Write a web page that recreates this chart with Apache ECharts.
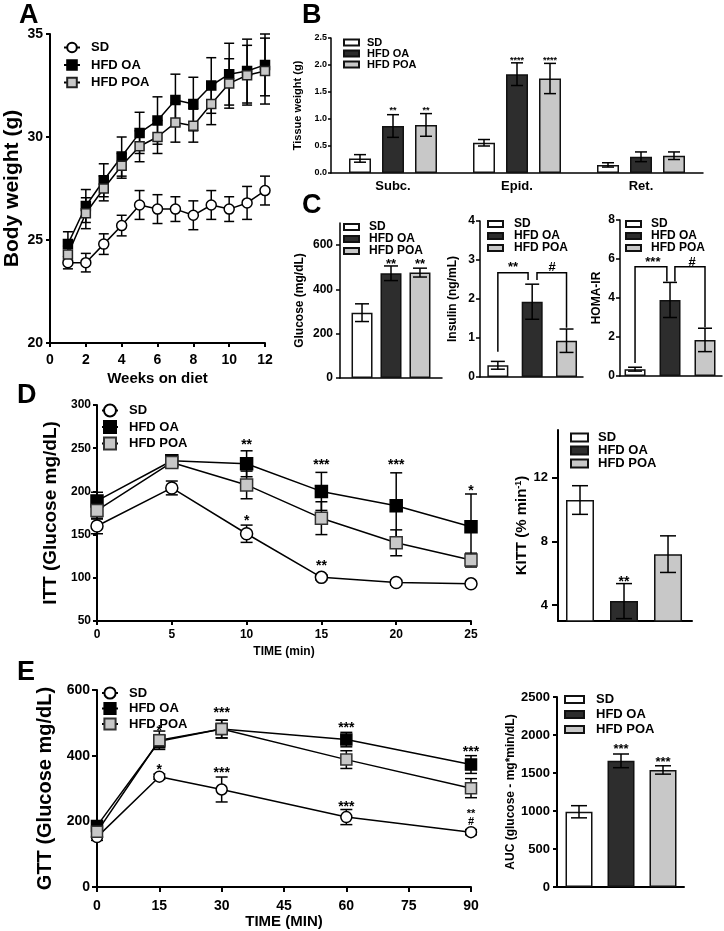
<!DOCTYPE html>
<html>
<head>
<meta charset="utf-8">
<script src="https://cdn.jsdelivr.net/npm/echarts@6/dist/echarts.min.js"></script>
<style>
  html, body { margin: 0; padding: 0; background: #fff; }
  #main { width: 724px; height: 931px; }
</style>
</head>
<body>
<div id="main"></div>
<script>
// ---- A: body weight ----
var weeks = [1, 2, 3, 4, 5, 6, 7, 8, 9, 10, 11, 12];
var bwSD = [23.9, 23.9, 24.8, 25.7, 26.7, 26.5, 26.5, 26.2, 26.7, 26.5, 26.8, 27.4];
var bwSDerr = [0.3, 0.45, 0.5, 0.5, 0.7, 0.7, 0.6, 0.7, 0.7, 0.6, 0.8, 0.7];
var bwOA = [24.8, 26.65, 27.9, 29.05, 30.2, 30.8, 31.8, 31.6, 32.5, 33.05, 33.2, 33.5];
var bwOAerr = [0.6, 0.8, 0.8, 0.95, 1.0, 1.15, 1.25, 1.3, 1.35, 1.5, 1.55, 1.5];
var bwPOA = [24.3, 26.3, 27.5, 28.6, 29.55, 30.0, 30.7, 30.55, 31.6, 32.6, 33.0, 33.2];
var bwPOAerr = [0.4, 0.75, 0.6, 0.6, 0.75, 0.8, 0.95, 0.8, 1.0, 1.2, 1.45, 1.6];

// ---- B: tissue weight ----
var tissues = ['Subc.', 'Epid.', 'Ret.'];
var twSD = [0.27, 0.56, 0.15];
var twSDerr = [0.07, 0.06, 0.04];
var twOA = [0.87, 1.83, 0.30];
var twOAerr = [0.21, 0.21, 0.09];
var twPOA = [0.89, 1.75, 0.32];
var twPOAerr = [0.21, 0.28, 0.07];
// [tissue, value, text, group]
var twStars = [[0, 1.15, '**', 1], [0, 1.15, '**', 2], [1, 2.09, '****', 1], [1, 2.09, '****', 2]];

// ---- C: glucose / insulin / HOMA-IR (groups at x = 1, 2, 3) ----
var groups = ['SD', 'HFD OA', 'HFD POA'];
var glucose = [295, 473, 476];
var glucoseErr = [40, 33, 20];
var glucoseStars = [[2, 515, '**'], [3, 515, '**']];
var insulin = [0.3, 1.93, 0.93];
var insulinErr = [0.1, 0.45, 0.3];
// bracket: x1, y1 (leg end), x2, y2 (leg end), top
var insulinBrackets = [[1, 0.65, 1.88, 2.49, 2.67], [2.14, 2.49, 3, 1.26, 2.67]];
var insulinStars = [[1.44, 2.8, '**'], [2.58, 2.8, '#']];
var homa = [0.35, 3.9, 1.85];
var homaErr = [0.1, 0.9, 0.6];
var homaBrackets = [[1, 0.67, 1.91, 4.85, 5.6], [2.14, 4.85, 3, 2.5, 5.6]];
var homaStars = [[1.51, 5.85, '***'], [2.63, 5.85, '#']];

// ---- D: ITT + KITT ----
var ittTimes = [0, 5, 10, 15, 20, 25];
var ittSD = [160, 204, 151, 100.5, 94.5, 93];
var ittSDerr = [9, 8, 10, 3, 3, 3];
var ittOA = [189, 235.5, 232, 200, 183.5, 159];
var ittOAerr = [10, 5, 15, 22, 38, 38];
var ittPOA = [178, 233.5, 207.5, 169, 140.5, 120.5];
var ittPOAerr = [10, 5, 16, 19, 15, 8];
var ittStars = [[10, 254, '**'], [10, 165, '*'], [15, 230, '***'], [15, 114, '**'], [20, 230, '***'], [25, 200, '*']];
var kitt = [10.6, 4.25, 7.2];
var kittErr = [0.9, 1.1, 1.15];
var kittStars = [[2, 5.45, '**']];

// ---- E: GTT + AUC ----
var gttTimes = [0, 15, 30, 60, 90];
var gttSD = [152, 336, 297, 213, 167];
var gttSDerr = [10, 8, 38, 23, 8];
var gttOA = [186, 444, 481, 449, 373];
var gttOAerr = [10, 20, 27, 22, 27];
var gttPOA = [168, 447, 481, 388, 301];
var gttPOAerr = [12, 28, 27, 27, 29];
var gttStars = [[15, 475, '*'], [15, 356, '*'], [30, 529, '***'], [30, 347, '***'], [60, 484, '***'], [60, 243, '***'], [90, 411, '***']];
var gttStarsSmall = [[90, 223, '**'], [90, 198, '#']];
var auc = [990, 1660, 1540];
var aucErr = [80, 90, 55];
var aucStars = [[2, 1810, '***'], [3, 1640, '***']];

var FONT = "'Liberation Sans', Arial, sans-serif";
var BLACK = '#000';
var SD_FILL = '#ffffff', OA_FILL = '#2d2d2d', POA_FILL = '#c8c8c8';
var barFills = [SD_FILL, OA_FILL, POA_FILL];

function merge(a, b) {
  for (var k in b) {
    if (b[k] && typeof b[k] === 'object' && !Array.isArray(b[k]) && a[k] && typeof a[k] === 'object') {
      merge(a[k], b[k]);
    } else {
      a[k] = b[k];
    }
  }
  return a;
}

function plain(v) { return String(v); }

function axis(type, grid, fs, lw, more) {
  var ax = {
    type: type, gridIndex: grid,
    axisLine: { show: true, onZero: false, lineStyle: { color: BLACK, width: lw } },
    axisTick: { show: true, length: 4, lineStyle: { color: BLACK, width: lw } },
    axisLabel: { color: BLACK, fontSize: fs, fontWeight: 'bold', fontFamily: FONT, margin: 6 },
    splitLine: { show: false },
    nameLocation: 'middle',
    nameTextStyle: { color: BLACK, fontWeight: 'bold', fontFamily: FONT }
  };
  if (type === 'value') ax.axisLabel.formatter = plain;
  return merge(ax, more || {});
}
function hiddenX(grid, min, max, lw) {
  return axis('value', grid, 10, lw, {
    min: min, max: max, axisTick: { show: false }, axisLabel: { show: false }
  });
}

function pairs(xs, ys, es) {
  return xs.map(function (x, i) { return es ? [x, ys[i], es[i]] : [x, ys[i]]; });
}

function errRender(cap, lw, offset) {
  return function (params, api) {
    var x = api.value(0), y = api.value(1), e = api.value(2);
    var hi = api.coord([x, y + e]), lo = api.coord([x, y - e]);
    var cx = hi[0] + (offset || 0);
    var st = { stroke: BLACK, lineWidth: lw };
    return {
      type: 'group', children: [
        { type: 'line', shape: { x1: cx, y1: hi[1], x2: cx, y2: lo[1] }, style: st },
        { type: 'line', shape: { x1: cx - cap, y1: hi[1], x2: cx + cap, y2: hi[1] }, style: st },
        { type: 'line', shape: { x1: cx - cap, y1: lo[1], x2: cx + cap, y2: lo[1] }, style: st }
      ]
    };
  };
}
function errSeries(xi, data, cap, lw, z, offset) {
  return {
    type: 'custom', xAxisIndex: xi, yAxisIndex: xi, data: data, z: z, silent: true,
    renderItem: errRender(cap, lw, offset)
  };
}

function starSeries(xi, list, fs, offsetFn) {
  return {
    type: 'custom', xAxisIndex: xi, yAxisIndex: xi, z: 10, silent: true,
    data: list.map(function (s) { return [s[0], s[1]]; }),
    renderItem: function (params, api) {
      var item = list[params.dataIndex];
      var p = api.coord([api.value(0), api.value(1)]);
      return {
        type: 'text', x: p[0] + (offsetFn ? offsetFn(item) : 0), y: p[1],
        style: { text: item[2], fill: BLACK, font: 'bold ' + fs + 'px ' + FONT, align: 'center', verticalAlign: 'middle' }
      };
    }
  };
}

function bracketSeries(xi, list) {
  return {
    type: 'custom', xAxisIndex: xi, yAxisIndex: xi, z: 5, silent: true,
    data: list,
    renderItem: function (params, api) {
      var a = api.coord([api.value(0), api.value(1)]);
      var b = api.coord([api.value(0), api.value(4)]);
      var c = api.coord([api.value(2), api.value(4)]);
      var d = api.coord([api.value(2), api.value(3)]);
      return { type: 'polyline', shape: { points: [a, b, c, d] }, style: { stroke: BLACK, lineWidth: 1.5, fill: null } };
    }
  };
}

function lineSeries(name, xi, data, symbol, size, fill, borderColor) {
  return {
    name: name, type: 'line', xAxisIndex: xi, yAxisIndex: xi, data: data,
    symbol: symbol, symbolSize: size, showAllSymbol: true, z: 3,
    lineStyle: { color: BLACK, width: 1.5 },
    itemStyle: { color: fill, borderColor: borderColor, borderWidth: 1.5, opacity: 1 }
  };
}

function barSeries(name, xi, x, y, width) {
  return {
    name: name, type: 'bar', xAxisIndex: xi, yAxisIndex: xi,
    data: [[x, y]], barWidth: width, barGap: '-100%', z: 2,
    itemStyle: { color: barFills[x - 1], borderColor: '#111', borderWidth: 1.5 }
  };
}

function stripName(n) { return n.split('|')[1]; }
function lineLegend(prefix, left, top, ih, gap, fs) {
  return {
    orient: 'vertical', left: left, top: top, itemWidth: 16, itemHeight: ih, itemGap: gap,
    selectedMode: false, padding: 0, formatter: stripName,
    data: groups.map(function (g) { return prefix + '|' + g; }),
    textStyle: { color: BLACK, fontWeight: 'bold', fontSize: fs, fontFamily: FONT, lineHeight: ih, padding: [0, 0, 0, 6] }
  };
}
function barLegend(prefix, left, top, iw, ih, rowH, fs, pad) {
  return {
    orient: 'vertical', left: left, top: top, itemWidth: iw, itemHeight: ih, itemGap: 0,
    selectedMode: false, padding: 0, icon: 'rect', formatter: stripName,
    data: groups.map(function (g) { return prefix + '|' + g; }),
    textStyle: { color: BLACK, fontWeight: 'bold', fontSize: fs, fontFamily: FONT, lineHeight: rowH, padding: [0, 0, 0, pad] }
  };
}

var grids = [
  { left: 50, top: 34, width: 215, height: 309 },   // 0 A
  { left: 331, top: 38, width: 372, height: 135 },  // 1 B
  { left: 340, top: 223, width: 102, height: 155 }, // 2 C glucose
  { left: 480, top: 221, width: 103, height: 156 }, // 3 C insulin
  { left: 620, top: 220, width: 102, height: 156 }, // 4 C homa
  { left: 97, top: 405, width: 374, height: 216 },  // 5 D ITT
  { left: 558, top: 430, width: 134, height: 191 }, // 6 D KITT
  { left: 97, top: 690, width: 374, height: 197 },  // 7 E GTT
  { left: 557, top: 697, width: 127, height: 190 }  // 8 E AUC
];

var xAxes = [
  axis('value', 0, 14, 2, { min: 0, max: 12, interval: 2, axisLabel: { margin: 10 }, name: 'Weeks on diet', nameGap: 28, nameTextStyle: { fontSize: 15 } }),
  axis('category', 1, 13, 1.5, { data: tissues, axisTick: { show: false }, axisLabel: { margin: 7 } }),
  hiddenX(2, 0.24, 3.76, 1.5),
  hiddenX(3, 0.48, 3.48, 1.5),
  hiddenX(4, 0.57, 3.486, 1.5),
  axis('value', 5, 12, 2, { min: 0, max: 25, interval: 5, axisLabel: { margin: 8 }, name: 'TIME (min)', nameGap: 25, nameTextStyle: { fontSize: 12 } }),
  hiddenX(6, 0.5, 3.545, 2),
  axis('value', 7, 14, 2, { min: 0, max: 90, interval: 15, axisTick: { length: 5 }, axisLabel: { margin: 12 }, name: 'TIME (MIN)', nameGap: 27, nameTextStyle: { fontSize: 15 } }),
  hiddenX(8, 0.476, 3.5, 2)
];

var yAxes = [
  axis('value', 0, 14, 2, { min: 20, max: 35, interval: 5, axisLabel: { margin: 7 }, name: 'Body weight (g)', nameGap: 27, nameTextStyle: { fontSize: 21 } }),
  axis('value', 1, 9, 1.5, { min: 0, max: 2.5, interval: 0.5, axisTick: { length: 3 }, axisLabel: { margin: 4, formatter: function (v) { return v.toFixed(1); } }, name: 'Tissue weight (g)', nameGap: 18, nameTextStyle: { fontSize: 11 } }),
  axis('value', 2, 12, 1.5, { min: 0, max: 700, axisTick: { customValues: [0, 200, 400, 600] }, axisLabel: { margin: 7, customValues: [0, 200, 400, 600] }, name: 'Glucose (mg/dL)', nameGap: 34, nameTextStyle: { fontSize: 12 } }),
  axis('value', 3, 12, 1.5, { min: 0, max: 4, interval: 1, axisLabel: { margin: 5 }, name: 'Insulin (ng/mL)', nameGap: 21, nameTextStyle: { fontSize: 12 } }),
  axis('value', 4, 12, 1.5, { min: 0, max: 8, interval: 2, axisLabel: { margin: 5 }, name: 'HOMA-IR', nameGap: 17, nameTextStyle: { fontSize: 12 } }),
  axis('value', 5, 12, 2, { min: 50, max: 300, interval: 50, axisLabel: { margin: 6 }, name: 'ITT (Glucose mg/dL)', nameGap: 32, nameTextStyle: { fontSize: 19 } }),
  axis('value', 6, 13, 2, { min: 3, max: 15, axisTick: { length: 6, customValues: [4, 8, 12] }, axisLabel: { margin: 10, customValues: [4, 8, 12] },
    name: 'KITT (% min{sup|-1})', nameGap: 25,
    nameTextStyle: { fontSize: 15, rich: { sup: { fontSize: 9, fontWeight: 'bold', fontFamily: FONT, color: BLACK, verticalAlign: 'top', padding: [0, 0, 7, 0] } } } }),
  axis('value', 7, 14, 2, { min: 0, max: 600, interval: 200, axisTick: { length: 5 }, axisLabel: { margin: 7 }, name: 'GTT (Glucose mg/dL)', nameGap: 32, nameTextStyle: { fontSize: 20 } }),
  axis('value', 8, 13, 2, { min: 0, max: 2500, interval: 500, axisLabel: { margin: 7 }, name: 'AUC (glucose - mg*min/dL)', nameGap: 39, nameTextStyle: { fontSize: 12 } })
];

var series = [];

// A
series.push(errSeries(0, pairs(weeks, bwSD, bwSDerr), 5, 1.5, 1));
series.push(errSeries(0, pairs(weeks, bwOA, bwOAerr), 5, 1.5, 1));
series.push(errSeries(0, pairs(weeks, bwPOA, bwPOAerr), 5, 1.5, 1));
series.push(lineSeries('a|SD', 0, pairs(weeks, bwSD), 'circle', 10, SD_FILL, BLACK));
series.push(lineSeries('a|HFD OA', 0, pairs(weeks, bwOA), 'rect', 9, '#000', BLACK));
series.push(lineSeries('a|HFD POA', 0, pairs(weeks, bwPOA), 'rect', 9, POA_FILL, '#222'));

// B
[[twSD, twSDerr], [twOA, twOAerr], [twPOA, twPOAerr]].forEach(function (g, gi) {
  series.push({
    name: 'b|' + groups[gi], type: 'bar', xAxisIndex: 1, yAxisIndex: 1, data: g[0],
    barWidth: 22, barGap: '50%', z: 2,
    itemStyle: { color: barFills[gi], borderColor: '#111', borderWidth: 1.5 }
  });
  series.push(errSeries(1, tissues.map(function (t, i) { return [i, g[0][i], g[1][i]]; }), 6, 1.5, 4, (gi - 1) * 33));
});
series.push(starSeries(1, twStars, 9, function (s) { return (s[3] - 1) * 33; }));

// C
[[2, 'c1', glucose, glucoseErr], [3, 'c2', insulin, insulinErr], [4, 'c3', homa, homaErr]].forEach(function (c) {
  groups.forEach(function (g, gi) {
    series.push(barSeries(c[1] + '|' + g, c[0], gi + 1, c[2][gi], 21));
  });
  series.push(errSeries(c[0], c[2].map(function (v, i) { return [i + 1, v, c[3][i]]; }), 7, 1.5, 4));
});
series.push(starSeries(2, glucoseStars, 13));
series.push(bracketSeries(3, insulinBrackets));
series.push(starSeries(3, insulinStars, 13));
series.push(bracketSeries(4, homaBrackets));
series.push(starSeries(4, homaStars, 13));

// D
series.push(errSeries(5, pairs(ittTimes, ittSD, ittSDerr), 6, 1.5, 1));
series.push(errSeries(5, pairs(ittTimes, ittOA, ittOAerr), 6, 1.5, 1));
series.push(errSeries(5, pairs(ittTimes, ittPOA, ittPOAerr), 6, 1.5, 1));
series.push(lineSeries('d|SD', 5, pairs(ittTimes, ittSD), 'circle', 12, SD_FILL, BLACK));
series.push(lineSeries('d|HFD OA', 5, pairs(ittTimes, ittOA), 'rect', 12, '#000', BLACK));
series.push(lineSeries('d|HFD POA', 5, pairs(ittTimes, ittPOA), 'rect', 12, POA_FILL, '#333'));
series.push(starSeries(5, ittStars, 14));
groups.forEach(function (g, gi) {
  series.push(barSeries('k|' + g, 6, gi + 1, kitt[gi], 28));
});
series.push(errSeries(6, kitt.map(function (v, i) { return [i + 1, v, kittErr[i]]; }), 8, 1.5, 4));
series.push(starSeries(6, kittStars, 14));

// E
series.push(errSeries(7, pairs(gttTimes, gttSD, gttSDerr), 6, 1.5, 1));
series.push(errSeries(7, pairs(gttTimes, gttOA, gttOAerr), 6, 1.5, 1));
series.push(errSeries(7, pairs(gttTimes, gttPOA, gttPOAerr), 6, 1.5, 1));
series.push(lineSeries('e|SD', 7, pairs(gttTimes, gttSD), 'circle', 11, SD_FILL, BLACK));
series.push(lineSeries('e|HFD OA', 7, pairs(gttTimes, gttOA), 'rect', 11, '#000', BLACK));
series.push(lineSeries('e|HFD POA', 7, pairs(gttTimes, gttPOA), 'rect', 11, POA_FILL, '#333'));
series.push(starSeries(7, gttStars, 14));
series.push(starSeries(7, gttStarsSmall, 11));
groups.forEach(function (g, gi) {
  series.push(barSeries('u|' + g, 8, gi + 1, auc[gi], 27));
});
series.push(errSeries(8, auc.map(function (v, i) { return [i + 1, v, aucErr[i]]; }), 8, 1.5, 4));
series.push(starSeries(8, aucStars, 13));

function letter(t, left, top) {
  return { text: t, left: left, top: top, padding: 0, textStyle: { fontSize: 27, fontWeight: 'bold', fontFamily: FONT, color: BLACK } };
}

var chart = echarts.init(document.getElementById('main'), null, { renderer: 'canvas' });
chart.setOption({
  animation: false,
  backgroundColor: '#fff',
  title: [letter('A', 19, 2), letter('B', 302, 2), letter('C', 302, 192), letter('D', 17, 382), letter('E', 17, 659)],
  legend: [
    lineLegend('a', 63, 41, 12, 4.5, 13),
    barLegend('b', 343, 37, 15, 6, 10.3, 11, 3),
    barLegend('c1', 343, 221, 15, 6, 10, 12, 5),
    barLegend('c2', 487, 218, 15, 6, 10, 12, 6),
    barLegend('c3', 625, 218, 15, 6, 10, 12, 5),
    lineLegend('d', 101, 403, 15, 1.5, 13),
    barLegend('k', 570, 431, 17, 8, 12, 13, 5),
    lineLegend('e', 101, 686, 14, 1.5, 13),
    barLegend('u', 564, 692, 19, 7, 15, 13, 7)
  ],
  grid: grids,
  xAxis: xAxes,
  yAxis: yAxes,
  series: series
});
</script>
</body>
</html>
